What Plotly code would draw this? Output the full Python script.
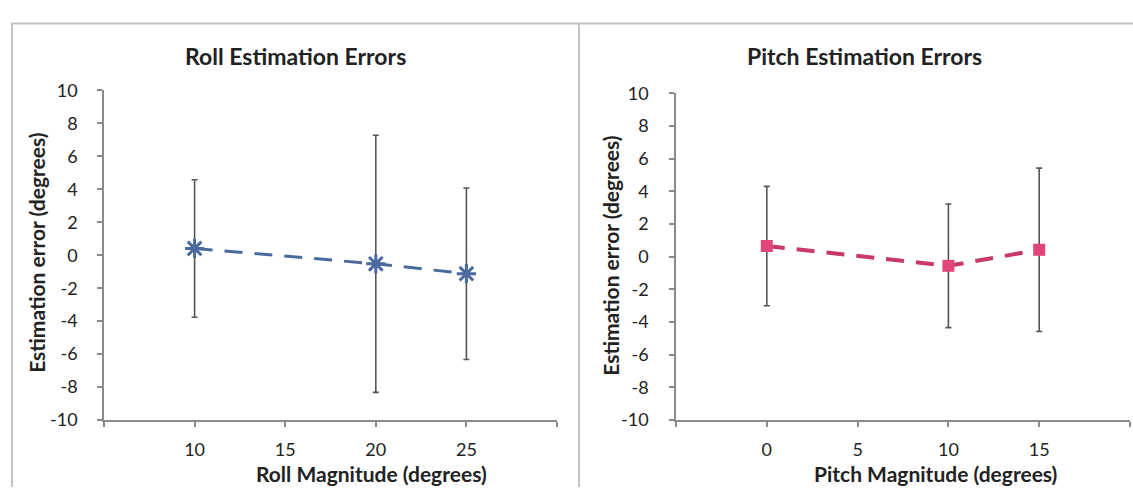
import plotly.graph_objects as go

W, H = 1133, 497

# ---- data ----
roll_x = [10, 20, 25]
roll_err = [0.41, -0.52, -1.12]
roll_sd = [4.17, 7.8, 5.2]

pitch_x = [0, 10, 15]
pitch_err = [0.65, -0.56, 0.42]
pitch_sd = [3.65, 3.78, 5.0]

roll_tickvals = [5, 10, 15, 20, 25, 30]
roll_ticktext = ["", "10", "15", "20", "25", ""]
pitch_tickvals = [-5, 0, 5, 10, 15, 20]
pitch_ticktext = ["", "0", "5", "10", "15", ""]
y_tickvals = [-10, -8, -6, -4, -2, 0, 2, 4, 6, 8, 10]
y_ticktext = ["-10", "-8", "-6", "-4", "-2", "0", "2", "4", "6", "8", "10"]

FONT = "Lato"
AX = "#8a8a8a"
ROLL_C = "#4a6a9e"
PITCH_LINE = "#c8386a"
PITCH_MK = "#e0457b"
EB = "#555555"

fig = go.Figure()
fig.add_trace(go.Scatter(
    x=roll_x, y=roll_err, mode="lines+markers", xaxis="x", yaxis="y",
    line=dict(color=ROLL_C, width=3, dash="18px,12px"),
    marker=dict(symbol="asterisk-open", size=16, line=dict(color=ROLL_C, width=3)),
    error_y=dict(type="data", array=roll_sd, visible=True, color=EB, thickness=1.6, width=3),
    showlegend=False))
fig.add_trace(go.Scatter(
    x=pitch_x, y=pitch_err, mode="lines+markers", xaxis="x2", yaxis="y2",
    line=dict(color=PITCH_LINE, width=4, dash="18px,12px"),
    marker=dict(symbol="square", size=12, color=PITCH_MK, line=dict(width=0)),
    error_y=dict(type="data", array=pitch_sd, visible=True, color=EB, thickness=1.6, width=3),
    showlegend=False))

axcommon = dict(showline=True, linecolor=AX, linewidth=1.5, ticks="outside", ticklen=5,
                tickcolor=AX, tickwidth=1.5, showgrid=False, zeroline=False,
                tickfont=dict(family=FONT, size=18, color="#222"))

fig.update_layout(
    width=W, height=H, margin=dict(l=0, r=0, t=0, b=0),
    paper_bgcolor="white", plot_bgcolor="white",
    font=dict(family=FONT, color="#222"),
    xaxis=dict(domain=[104/W, 557/W], range=[5, 30], tickvals=roll_tickvals,
               ticktext=roll_ticktext, anchor="y", ticklabelstandoff=8, **axcommon),
    yaxis=dict(domain=[1-427/H, 1-82/H], range=[-10, 10], tickvals=y_tickvals,
               ticktext=y_ticktext, anchor="x", ticklabelstandoff=16, **axcommon),
    xaxis2=dict(domain=[676/W, 1130/W], range=[-5, 20], tickvals=pitch_tickvals,
                ticktext=pitch_ticktext, anchor="y2", ticklabelstandoff=8, **axcommon),
    yaxis2=dict(domain=[1-427/H, 1-85/H], range=[-10, 10], tickvals=y_tickvals,
                ticktext=y_ticktext, anchor="x2", ticklabelstandoff=17, **axcommon),
)

border = dict(color="#c4c4c4", width=2)
fig.add_shape(type="line", xref="paper", yref="paper", x0=11/W, x1=1, y0=1-12/H, y1=1-12/H, line=border)
fig.add_shape(type="line", xref="paper", yref="paper", x0=12/W, x1=12/W, y0=0, y1=1-12/H, line=border)
fig.add_shape(type="line", xref="paper", yref="paper", x0=579/W, x1=579/W, y0=0, y1=1-12/H, line=border)

tfont = dict(family=FONT, size=23, color="#222")
afont = dict(family=FONT, size=21, color="#222")
ann = [
    dict(text="<b>Roll Estimation Errors</b>", x=295/W, y=1-46/H, font=tfont),
    dict(text="<b>Pitch Estimation Errors</b>", x=864/W, y=1-46/H, font=tfont),
    dict(text="<b>Roll Magnitude (degrees)</b>", x=371/W, y=1-483/H, font=afont),
    dict(text="<b>Pitch Magnitude (degrees)</b>", x=935/W, y=1-483/H, font=afont),
    dict(text="<b>Estimation error (degrees)</b>", x=37/W, y=1-252/H, font=afont, textangle=-90),
    dict(text="<b>Estimation error (degrees)</b>", x=611/W, y=1-255/H, font=afont, textangle=-90),
]
for a in ann:
    fig.add_annotation(xref="paper", yref="paper", showarrow=False,
                       xanchor="center", yanchor="middle", **a)

fig.write_html("out.html")
